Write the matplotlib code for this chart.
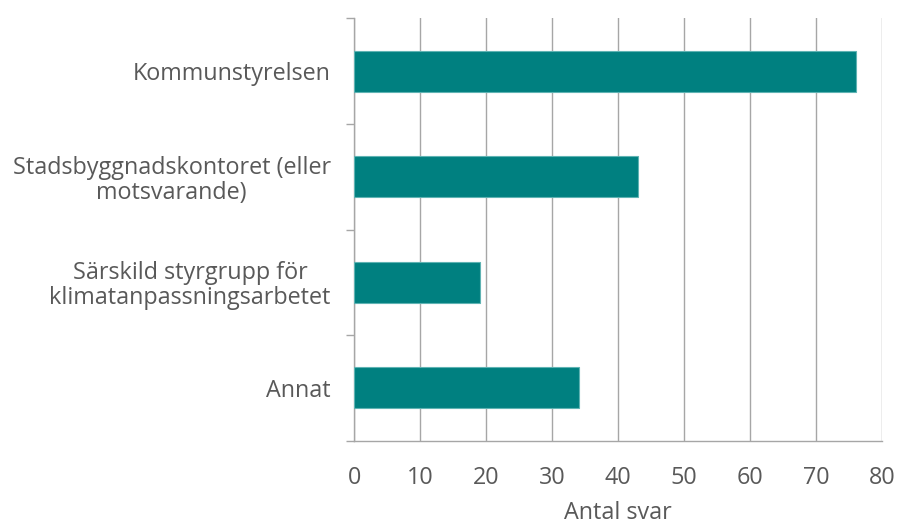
import matplotlib
matplotlib.use("Agg")
import matplotlib.pyplot as plt
import numpy as np

categories = ["Kommunstyrelsen", "Stadsbyggnadskontoret (eller\nmotsvarande)",
              "Särskild styrgrupp för\nklimatanpassningsarbetet", "Annat"]
values = [76, 43, 19, 34]
xticks = [0, 10, 20, 30, 40, 50, 60, 70, 80]

plt.rcParams['font.family'] = ['Open Sans', 'DejaVu Sans']
fig = plt.figure(figsize=(9, 5.25), dpi=100)
ax = fig.add_axes([0.3937, 0.1606, 0.9803 - 0.3937, 0.9651 - 0.1606])

y = np.arange(len(categories))
ax.barh(y, values, height=0.39, color="#008080", edgecolor="#5fb3b3", linewidth=0.8, zorder=3)
ax.set_ylim(len(categories) - 0.5, -0.5)
ax.set_xlim(0, 80)
ax.set_xticks(xticks)
ax.set_xticklabels([str(v) for v in xticks])
ax.set_yticks(y)
ax.set_yticklabels(categories, ha="right", multialignment="center", linespacing=1.05)
ax.set_yticks(np.arange(-0.5, len(categories), 1), minor=True)

grid_c = "#a6a6a6"
ax.grid(axis="x", color=grid_c, linewidth=1, zorder=0)
for s in ["top", "right"]:
    ax.spines[s].set_visible(False)
ax.spines["left"].set_color(grid_c)
ax.spines["bottom"].set_color(grid_c)
ax.spines["left"].set_linewidth(1)
ax.spines["bottom"].set_linewidth(1)

fs = 16.8
ax.tick_params(axis="y", which="major", length=0, pad=17, labelsize=fs, labelcolor="#595959")
ax.tick_params(axis="y", which="minor", length=6, color=grid_c, width=1)
ax.tick_params(axis="x", which="major", length=0, pad=18, labelsize=fs, labelcolor="#595959")

ax.set_xlabel("Antal svar", fontsize=fs, color="#595959", labelpad=8)

fig.savefig("out.png", dpi=100)
